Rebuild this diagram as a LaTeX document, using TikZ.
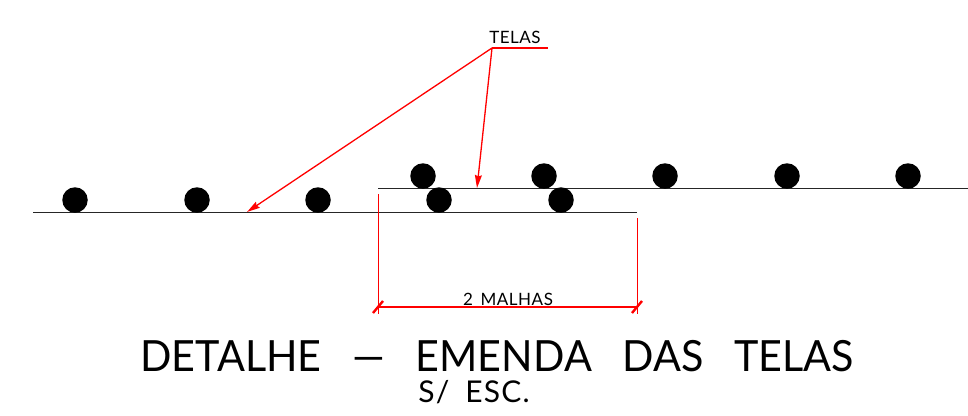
\documentclass[tikz,border=0pt]{standalone}
\usepackage{fontspec}
\setmainfont{Lato}
\usetikzlibrary{arrows.meta}
\newfontfamily\cadtitle[FakeStretch=0.96,WordSpace=2.9]{Lato}
\newfontfamily\cadsmall[LetterSpace=3,WordSpace=1.6]{Lato}
\newfontfamily\cadscale[LetterSpace=4,WordSpace=1.8]{Lato}
\tikzset{
  bar/.style={circle,fill=black,inner sep=0pt,minimum size=25.5pt},
  mesh/.style={draw=black!85,line width=1pt},
  redline/.style={draw=red,line width=1.3pt},
  witness/.style={draw=red,line width=1.2pt},
  leader/.style={redline,-{Stealth[length=13pt,width=7pt,inset=1.5pt]}},
  tick/.style={draw=red,line width=2.4pt},
  lbl/.style={inner sep=0pt,anchor=base,text=black}
}
\begin{document}
\begin{tikzpicture}[x=1pt,y=-1pt]
\useasboundingbox (0,0) rectangle (968,415);
% mesh lines
\coordinate (lowA) at (33,212);
\coordinate (lowB) at (637,212);
\coordinate (upA) at (378,188);
\coordinate (upB) at (968,188);
\draw[mesh] (lowA) -- (lowB);
\draw[mesh] (upA) -- (upB);
% bars
\foreach \n/\x in {a/75,b/197,c/318,d/439,e/561}
  \node[bar] (low\n) at (\x,200) {};
\foreach \n/\x in {a/423,b/544,c/665,d/787,e/908}
  \node[bar] (up\n) at (\x,176) {};
% leaders
\coordinate (knee) at (492,48);
\coordinate (shelf) at (548,48);
\coordinate (tipL) at (247,212);
\coordinate (tipR) at (477,188);
\draw[redline] (knee) -- (shelf);
\draw[leader] (knee) -- (tipL);
\draw[leader] (knee) -- (tipR);
\node[lbl] (telas) at (515,43) {\fontsize{17}{17}\selectfont\cadsmall TELAS};
% dimension
\coordinate (dimLt) at (378.3,194);
\coordinate (dimLb) at (378.3,314);
\coordinate (dimRt) at (637.2,218);
\coordinate (dimRb) at (637.2,314);
\coordinate (dimL) at (378,307);
\coordinate (dimR) at (637,307);
\draw[witness] (dimLt) -- (dimLb);
\draw[witness] (dimRt) -- (dimRb);
\draw[redline] (dimL) -- (dimR);
\draw[tick] ([shift={(-5,6)}]dimL) -- ([shift={(5,-6)}]dimL);
\draw[tick] ([shift={(-5,6)}]dimR) -- ([shift={(5,-6)}]dimR);
\node[lbl] (malhas) at (508,305) {\fontsize{17}{17}\selectfont\cadsmall 2 MALHAS};
% title
\node[lbl] (title) at (497,371.5) {\fontsize{43}{43}\selectfont\cadtitle DETALHE — EMENDA DAS TELAS};
\node[lbl] (scale) at (474,402) {\fontsize{30}{30}\selectfont\cadscale S/ ESC.};
\end{tikzpicture}
\end{document}
